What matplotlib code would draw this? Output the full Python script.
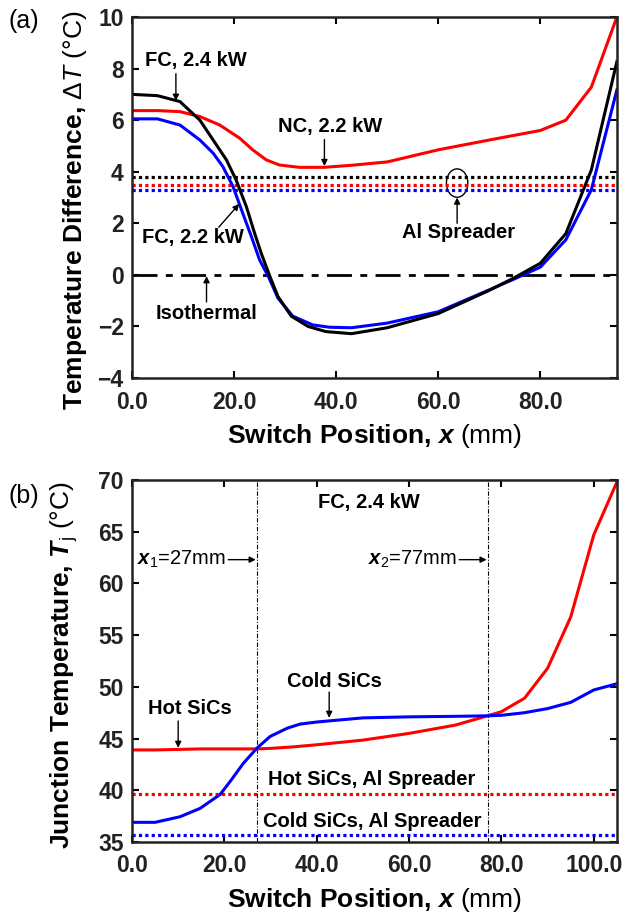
import matplotlib
matplotlib.use("Agg")
import matplotlib.pyplot as plt
from matplotlib.patches import Ellipse

plt.rcParams['font.family'] = ['Liberation Sans', 'DejaVu Sans']
plt.rcParams['mathtext.fontset'] = 'custom'
plt.rcParams['mathtext.rm'] = 'Liberation Sans'
plt.rcParams['mathtext.it'] = 'Liberation Sans:italic'
plt.rcParams['mathtext.bf'] = 'Liberation Sans:bold'
plt.rcParams['mathtext.bfit'] = 'Liberation Sans:bold:italic'

# ---- panel (a): temperature difference vs switch position ----
xa_fc24 = [0, 5, 9.4, 13.3, 15.9, 18.5, 20.4, 22.4, 24.0, 25.3, 27.0, 28.6, 31.2, 34.5, 38, 43,
           50, 60, 70, 75, 80, 85, 90, 95]
fc24 = [7.0, 6.95, 6.72, 6.0, 5.23, 4.46, 3.68, 2.65, 1.63, 0.85, -0.05, -0.84, -1.6, -2.0, -2.2, -2.28,
        -2.05, -1.5, -0.6, -0.1, 0.45, 1.6, 4.07, 8.27]
xa_fc22 = [0, 5, 9.4, 13.3, 15.9, 17.8, 19.8, 21.7, 23.4, 25, 26.8, 28.6, 31.5, 35.4, 38.7, 43,
           50, 60, 70, 75, 80, 85, 90, 95]
fc22 = [6.05, 6.05, 5.81, 5.23, 4.72, 4.2, 3.42, 2.39, 1.48, 0.58, -0.1, -0.9, -1.6, -1.94, -2.03, -2.05,
        -1.87, -1.43, -0.58, -0.15, 0.3, 1.36, 3.3, 7.17]
xa_nc = [0, 5, 9.4, 13.3, 17.2, 21.1, 23.7, 26.3, 28.9, 32.8, 37.6, 43, 50, 60, 70, 80, 85, 90, 95]
nc22 = [6.37, 6.37, 6.33, 6.14, 5.81, 5.3, 4.84, 4.46, 4.26, 4.17, 4.17, 4.25, 4.38, 4.85, 5.23, 5.6,
        6.0, 7.28, 10.0]
spreader_a = {'FC, 2.4 kW': 3.8, 'NC, 2.2 kW': 3.5, 'FC, 2.2 kW': 3.3}

# ---- panel (b): junction temperature vs switch position ----
xb_hot = [0, 5, 10, 15, 20, 27, 30, 35, 40, 50, 60, 70, 77, 80, 85, 90, 95, 100, 105]
hot = [43.9, 43.9, 43.95, 44.0, 44.0, 44.0, 44.05, 44.2, 44.4, 44.85, 45.5, 46.3, 47.2, 47.6, 48.9,
       51.8, 56.75, 64.7, 69.8]
xb_cold = [0, 5, 10.4, 14.75, 19.1, 21.5, 24.1, 27.0, 29.9, 33.6, 36.4, 40, 50, 60, 70, 77, 80, 85,
           90, 95, 100, 105]
cold = [36.9, 36.9, 37.44, 38.25, 39.6, 41.0, 42.6, 44.05, 45.2, 46.0, 46.4, 46.6, 47.0, 47.1, 47.15,
        47.2, 47.25, 47.5, 47.9, 48.5, 49.7, 50.3]
hot_spreader = 39.6
cold_spreader = 35.7
x1, x2 = 27, 77

fig = plt.figure(figsize=(6.25, 9.14), dpi=100)
ax1 = fig.add_axes([0.2112, 0.5864, 0.7758, 0.395])
ax2 = fig.add_axes([0.2112, 0.0788, 0.7758, 0.396])

lw = 2.2
fs_ann = 14.5
bold = dict(fontweight='bold', fontsize=fs_ann)
arrow = dict(arrowstyle='-|>', color='k', lw=1.0, mutation_scale=9, shrinkA=0, shrinkB=0)
xlab = 'Switch Position, $\\mathbfit{x}\\ \\mathrm{(mm)}$'

# panel (a)
ax1.axhline(0, color='k', lw=2, dashes=(9, 3, 2.5, 3))
for (name, val), c in zip(spreader_a.items(), ['k', 'red', 'blue']):
    ax1.axhline(val, color=c, lw=2.3, ls=(0, (1, 1)))
ax1.plot(xa_nc, nc22, color='red', lw=lw)
ax1.plot(xa_fc22, fc22, color='blue', lw=lw)
ax1.plot(xa_fc24, fc24, color='k', lw=lw)

ax1.text(12.5, 8.3, 'FC, 2.4 kW', ha='center', va='center', **bold)
ax1.annotate('', xy=(8.6, 6.75), xytext=(8.6, 7.8), arrowprops=arrow)
ax1.text(38.8, 5.75, 'NC, 2.2 kW', ha='center', va='center', **bold)
ax1.annotate('', xy=(37.7, 4.22), xytext=(37.7, 5.25), arrowprops=arrow)
ax1.text(12, 1.45, 'FC, 2.2 kW', ha='center', va='center', **bold)
ax1.annotate('', xy=(21, 2.75), xytext=(17, 1.85), arrowprops=arrow)
ax1.text(14.6, -1.5, 'Isothermal', ha='center', va='center', **bold)
ax1.annotate('', xy=(14.6, -0.05), xytext=(14.6, -1.05), arrowprops=arrow)
ax1.text(64, 1.65, 'Al Spreader', ha='center', va='center', **bold)
ax1.annotate('', xy=(63.7, 3.0), xytext=(63.7, 2.0), arrowprops=arrow)
ax1.add_patch(Ellipse((63.7, 3.56), 4.2, 1.1, fill=False, ec='k', lw=1.0))

ax1.set_xlim(0, 95)
ax1.set_ylim(-4, 10)
ax1.set_xticks([0, 20, 40, 60, 80])
ax1.set_xticklabels(['0.0', '20.0', '40.0', '60.0', '80.0'])
ax1.set_yticks(range(-4, 11, 2))
ax1.set_xlabel(xlab, fontsize=19, fontweight='bold', labelpad=6)
ax1.set_ylabel('Temperature Difference, $\\mathit{\\Delta T}\\ \\mathrm{(°C)}$', fontsize=19, fontweight='bold')
ax1.yaxis.set_label_coords(-0.088, 0.465)
fig.text(0.013, 0.977, '(a)', fontsize=18, va='center')

# panel (b)
ax2.axhline(hot_spreader, color='red', lw=2.3, ls=(0, (1, 1)))
ax2.axhline(cold_spreader, color='blue', lw=2.3, ls=(0, (1, 1)))
for xv in (x1, x2):
    ax2.axvline(xv, color='k', lw=0.8, dashes=(4, 1.5, 1, 1.5))
ax2.plot(xb_hot, hot, color='red', lw=lw)
ax2.plot(xb_cold, cold, color='blue', lw=lw)

ax2.text(51.4, 67.8, 'FC, 2.4 kW', ha='center', va='center', **bold)
ax2.annotate('$\\mathbfit{x}_{1}$=27mm', xy=(26.8, 62.3), xytext=(1.0, 62.3), va='center',
             fontsize=fs_ann, arrowprops=arrow)
ax2.annotate('$\\mathbfit{x}_{2}$=77mm', xy=(76.8, 62.3), xytext=(51.0, 62.3), va='center',
             fontsize=fs_ann, arrowprops=arrow)
ax2.text(43.8, 50.5, 'Cold SiCs', ha='center', va='center', **bold)
ax2.annotate('', xy=(42.7, 47.0), xytext=(42.7, 49.5), arrowprops=arrow)
ax2.text(12.5, 47.9, 'Hot SiCs', ha='center', va='center', **bold)
ax2.annotate('', xy=(10, 44.1), xytext=(10, 46.7), arrowprops=arrow)
ax2.text(52, 41.0, 'Hot SiCs, Al Spreader', ha='center', va='center', **bold)
ax2.text(52, 37.0, 'Cold SiCs, Al Spreader', ha='center', va='center', **bold)

ax2.set_xlim(0, 105)
ax2.set_ylim(35, 70)
ax2.set_xticks([0, 20, 40, 60, 80, 100])
ax2.set_xticklabels(['0.0', '20.0', '40.0', '60.0', '80.0', '100.0'])
ax2.set_yticks(range(35, 71, 5))
ax2.set_xlabel(xlab, fontsize=19, fontweight='bold', labelpad=6)
ax2.set_ylabel('Junction Temperature, $\\mathbfit{T}_{\\mathrm{j}}\\ \\mathrm{(°C)}$', fontsize=19, fontweight='bold')
ax2.yaxis.set_label_coords(-0.108, 0.49)
fig.text(0.013, 0.457, '(b)', fontsize=18, va='center')

for ax in (ax1, ax2):
    ax.tick_params(direction='in', top=True, right=True, length=5, width=1.5,
                   labelsize=16.5)
    ax.tick_params(axis='x', pad=9)
    ax.tick_params(axis='y', pad=6)
    for lab in ax.get_xticklabels() + ax.get_yticklabels():
        lab.set_fontweight('bold')
        lab.set_color('#222222')
    for s in ax.spines.values():
        s.set_linewidth(1.8)
        s.set_color('#222222')

fig.savefig('out.png', dpi=100)
